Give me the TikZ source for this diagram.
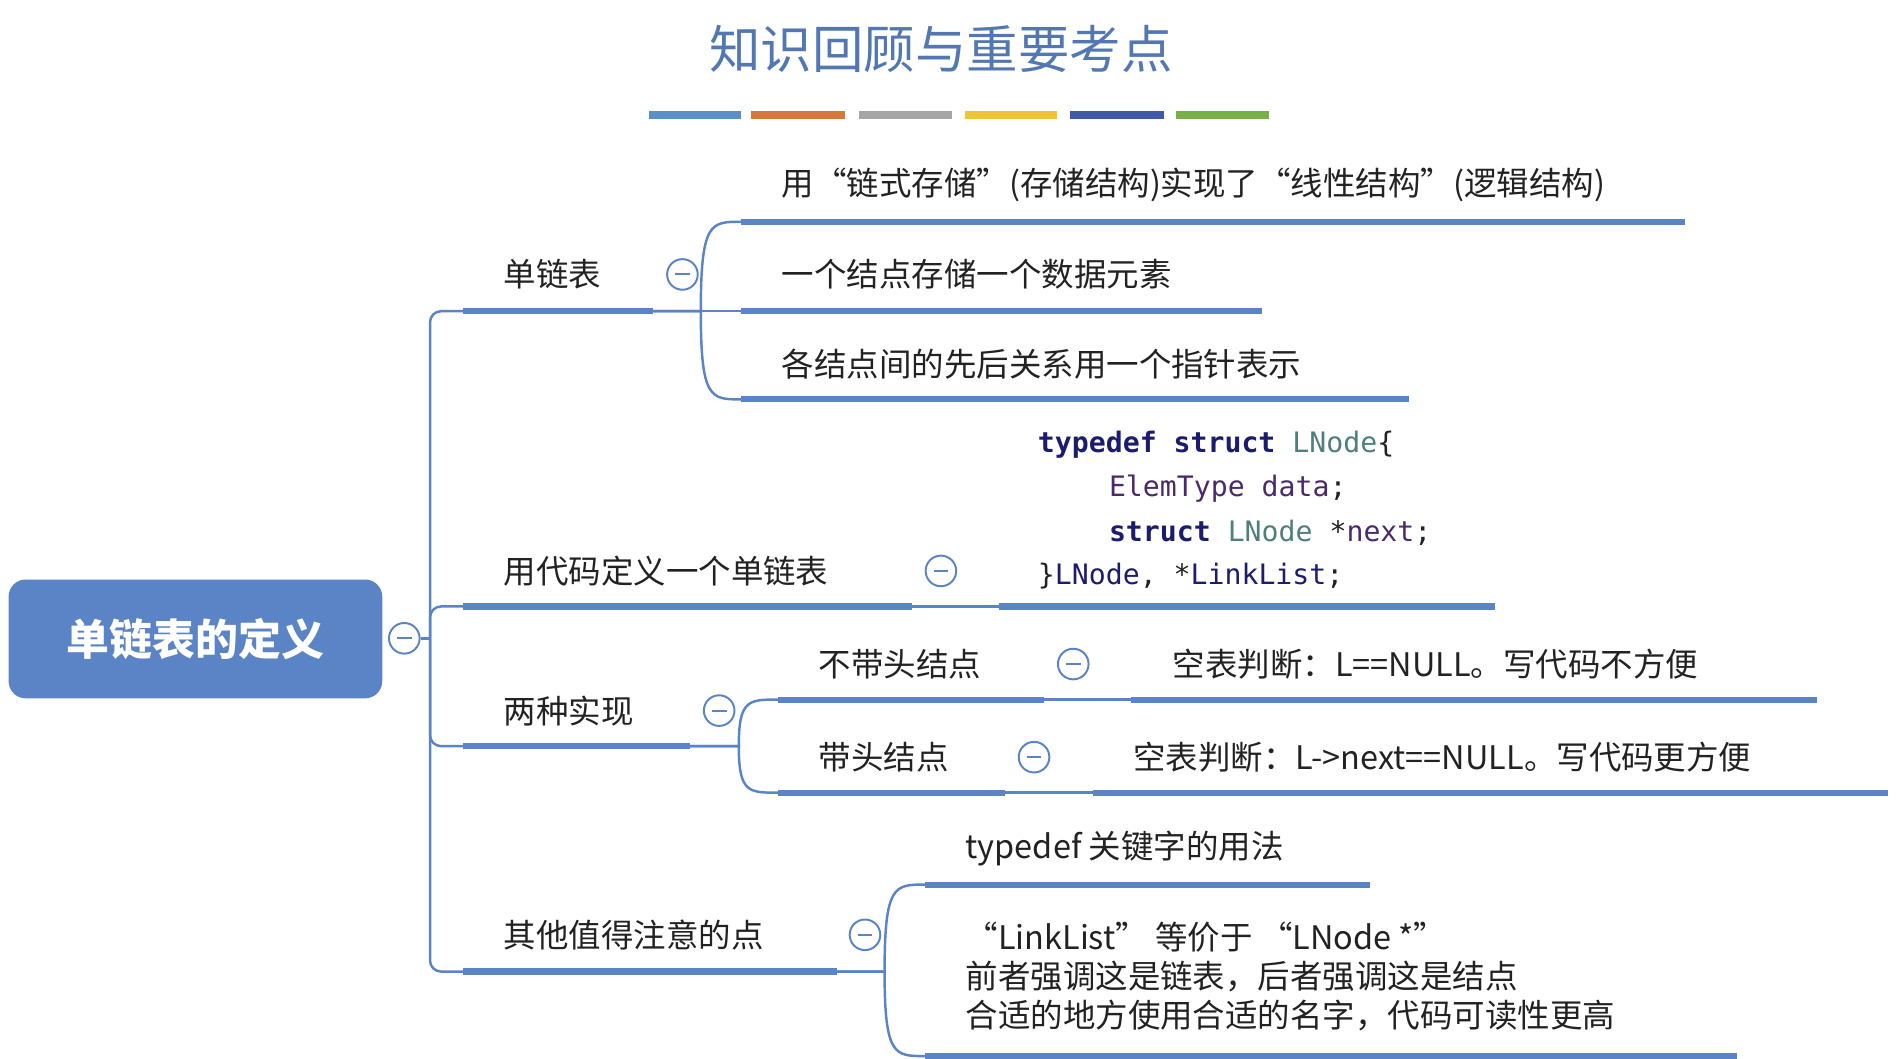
\documentclass[tikz,border=0pt]{standalone}
\usepackage{fontspec}
\setmainfont{Noto Sans CJK SC}
\newfontfamily\codefont{DejaVu Sans Mono}
\definecolor{ln}{HTML}{5B84C6}
\definecolor{tx}{HTML}{222222}
\definecolor{kw}{HTML}{1C1C6E}
\definecolor{ty}{HTML}{4E7F7C}
\definecolor{vr}{HTML}{4A2A6A}
\begin{document}
\begin{tikzpicture}[x=1pt,y=-1pt,
  lbl/.style={anchor=west,text=tx,font=\fontsize{26.5}{30}\selectfont,inner sep=0},
  code/.style={anchor=west,text=tx,font=\codefont\fontsize{23}{26}\selectfont,inner sep=0},
  ul/.style={ln,line width=5pt},
  con/.style={ln,line width=2pt},
  col/.style={draw=ln,fill=white,line width=1.6pt,circle,minimum size=25pt,inner sep=0,
    path picture={\draw[ln,line width=1.6pt] ([xshift=-6pt]path picture bounding box.center)--([xshift=6pt]path picture bounding box.center);}}]
\useasboundingbox (0,0) rectangle (1550,864);
% title
\node[text=ln!90!black,font=\fontsize{42}{46}\selectfont] (title) at (768,40) {知识回顾与重要考点};
\foreach \a/\b/\c [count=\i] in {530/605/5B8FC9,613/690/D9773B,701/777/A5A5A5,788/863/F0C330,873/950/3F5AA8,960/1036/78B04A}{
  \definecolor{bc\i}{HTML}{\c}
  \draw[bc\i,line width=7pt] (\a,94) -- (\b,94);}
% root
\node[fill=ln,rounded corners=14pt,minimum width=305pt,minimum height=97pt,text=white,
  font=\bfseries\fontsize{35}{40}\selectfont] (root) at (159.5,521.5) {单链表的定义};
\node[col] (c0) at (330,521) {};
% branch nodes
\node[lbl] (b1) at (411,224) {单链表};
\node[lbl] (b2) at (411,466) {用代码定义一个单链表};
\node[lbl] (b3) at (411,580) {两种实现};
\node[lbl] (b4) at (411,763) {其他值得注意的点};
\foreach \n/\y/\e in {1/254/533,2/495/744,3/609/563,4/793/683}{
  \coordinate (u\n s) at (378,\y); \coordinate (u\n e) at (\e,\y);
  \draw[ul] (u\n s) -- (u\n e);}
\draw[con] (c0.east) -- (351,521) coordinate (trunk);
\foreach \n in {1,2,3,4}{\draw[con,rounded corners=9pt] (trunk) |- (u\n s);}
\node[col] (c1) at (557,224) {};
\node[col] (c2) at (768,466) {};
\node[col] (c3) at (587,580) {};
\node[col] (c4) at (706,763) {};
% branch 1 children
\node[lbl] (t11) at (638,151) {用“链式存储”(存储结构)实现了“线性结构”(逻辑结构)};
\node[lbl] (t12) at (638,224) {一个结点存储一个数据元素};
\node[lbl] (t13) at (638,297) {各结点间的先后关系用一个指针表示};
\foreach \y/\e [count=\i] in {181/1375,254/1030,326/1150}{
  \coordinate (v1\i) at (605,\y); \draw[ul] (v1\i) -- (\e,\y);
  \draw[con] (u1e) -- (572,254) .. controls (572,\y) and (580,\y) .. (v1\i);}
% branch 2 child: code
\node[code] (k1) at (847,363) {\textcolor{kw}{\bfseries typedef struct} \textcolor{ty}{LNode}\{};
\node[code] (k2) at (905,399) {\textcolor{vr}{ElemType data};};
\node[code] (k3) at (905,435) {\textcolor{kw}{\bfseries struct} \textcolor{ty}{LNode} *\textcolor{vr}{next};};
\node[code] (k4) at (847,470) {\}\textcolor{kw}{LNode}, *\textcolor{kw}{LinkList};};
\coordinate (v21) at (815,495);
\draw[con] (u2e) -- (v21);
\draw[ul] (v21) -- (1220,495);
% branch 3 children
\node[lbl] (t31) at (668,542) {不带头结点};
\node[lbl] (t32) at (668,618) {带头结点};
\coordinate (v31) at (635,571); \coordinate (v32) at (635,647);
\draw[ul] (v31) -- (852,571) coordinate (v31e);
\draw[ul] (v32) -- (820,647) coordinate (v32e);
\foreach \y/\i in {571/1,647/2}{\draw[con] (u3e) -- (603,609) .. controls (603,\y) and (611,\y) .. (v3\i);}
\node[col] (c31) at (876,542) {};
\node[col] (c32) at (844,618) {};
\node[lbl] (t311) at (957,542) {空表判断：L==NULL。写代码不方便};
\node[lbl] (t321) at (925,618) {空表判断：L->next==NULL。写代码更方便};
\draw[con] (v31e) -- (923,571) coordinate (w31); \draw[ul] (w31) -- (1483,571);
\draw[con] (v32e) -- (892,647) coordinate (w32); \draw[ul] (w32) -- (1541,647);
% branch 4 children
\node[lbl] (t41) at (788,693) {typedef 关键字的用法};
\node[lbl,align=left,anchor=north west,font=\fontsize{26.5}{32}\selectfont] (t42) at (788,752)
  {“LinkList” 等价于 “LNode *”\\前者强调这是链表，后者强调这是结点\\合适的地方使用合适的名字，代码可读性更高};
\coordinate (v41) at (755,722); \coordinate (v42) at (755,862);
\draw[ul] (v41) -- (1118,722);
\draw[ul] (v42) -- (1418,862);
\foreach \y/\i in {722/1,862/2}{\draw[con] (u4e) -- (722,793) .. controls (722,\y) and (730,\y) .. (v4\i);}
\end{tikzpicture}
\end{document}
